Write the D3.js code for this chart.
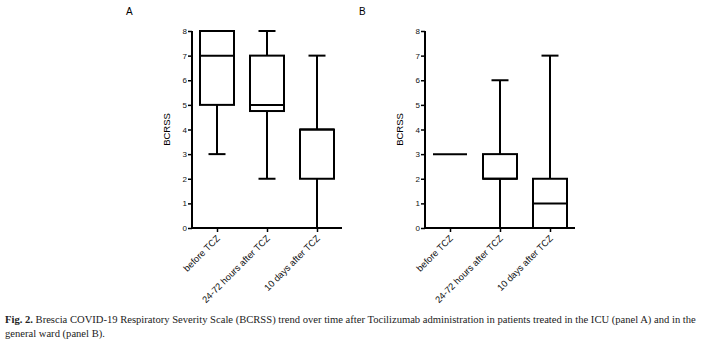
<!DOCTYPE html>
<html>
<head>
<meta charset="utf-8">
<script src="https://cdn.jsdelivr.net/npm/d3@7"></script>
<style>
  body { margin: 0; background: #fff; }
  svg { display: block; }
</style>
</head>
<body>
<svg id="chart" width="701" height="345"></svg>
<script>
// categories shared by both panels
var categories = ["before TCZ", "24-72 hours after TCZ", "10 days after TCZ"];
var yTicks = [0, 1, 2, 3, 4, 5, 6, 7, 8];

// [min, q1, median, q3, max] per category
var panelA = [
    [3, 5, 7, 8, 8],
    [2, 4.75, 5, 7, 8],
    [0, 2, 4, 4, 7]
];
var panelB = [
    [3, 3, 3, 3, 3],
    [0, 2, 2, 3, 6],
    [0, 0, 1, 2, 7]
];

var svg = d3.select("#chart");

function drawPanel(data, letter, x0) {
    var g = svg.append("g");
    var xScale = d3.scalePoint().domain(categories).range([x0, x0 + 150]).padding(0.5);
    var yScale = d3.scaleLinear().domain([0, 8]).range([228, 31]);
    var boxW = 34, capW = 17;

    // y axis
    var yAxis = g.append("g").attr("transform", "translate(" + x0 + ",0)")
        .call(d3.axisLeft(yScale).tickValues(yTicks).tickSize(4).tickPadding(1).tickFormat(d3.format("d")));
    yAxis.select(".domain").attr("stroke-width", 2).attr("d", "M0," + yScale(8) + "V" + yScale(0));
    yAxis.selectAll(".tick line").attr("stroke-width", 1.5);
    yAxis.selectAll("text").attr("font-family", "Liberation Sans, Arial, sans-serif").attr("font-size", 8).attr("fill", "#111");

    // x axis
    var xAxis = g.append("g").attr("transform", "translate(0," + yScale(0) + ")")
        .call(d3.axisBottom(xScale).tickSize(4).tickSizeOuter(0));
    xAxis.select(".domain").attr("stroke-width", 2).attr("d", "M" + (x0 - 1) + ",0H" + (x0 + 150));
    xAxis.selectAll(".tick line").attr("stroke-width", 1.5);
    xAxis.selectAll("text")
        .attr("font-family", "Liberation Sans, Arial, sans-serif").attr("font-size", 9.3).attr("fill", "#111")
        .attr("text-anchor", "end")
        .attr("dy", null).attr("y", 0)
        .attr("transform", "translate(3,11) rotate(-45)");

    // boxes
    var boxes = g.selectAll(".box").data(data).enter().append("g")
        .attr("transform", function(d, i) { return "translate(" + xScale(categories[i]) + ",0)"; });

    boxes.append("line").attr("x1", 0).attr("x2", 0)
        .attr("y1", function(d) { return yScale(d[4]); })
        .attr("y2", function(d) { return yScale(d[3]); })
        .attr("stroke", "#000").attr("stroke-width", 2);
    boxes.append("line").attr("x1", 0).attr("x2", 0)
        .attr("y1", function(d) { return yScale(d[1]); })
        .attr("y2", function(d) { return yScale(d[0]); })
        .attr("stroke", "#000").attr("stroke-width", 2);
    boxes.selectAll(".cap").data(function(d) { return [d[0], d[4]].filter(function(v) { return v !== d[1] && v !== d[3]; }); })
        .enter().append("line")
        .attr("x1", -capW / 2).attr("x2", capW / 2)
        .attr("y1", function(v) { return yScale(v); })
        .attr("y2", function(v) { return yScale(v); })
        .attr("stroke", "#000").attr("stroke-width", 2);
    boxes.append("rect")
        .attr("x", -boxW / 2).attr("width", boxW)
        .attr("y", function(d) { return yScale(d[3]); })
        .attr("height", function(d) { return yScale(d[1]) - yScale(d[3]); })
        .attr("fill", "#fff").attr("stroke", "#000").attr("stroke-width", 2);
    boxes.append("line")
        .attr("x1", -boxW / 2).attr("x2", boxW / 2)
        .attr("y1", function(d) { return yScale(d[2]); })
        .attr("y2", function(d) { return yScale(d[2]); })
        .attr("stroke", "#000").attr("stroke-width", 2);

    // axis title and panel letter
    g.append("text")
        .attr("transform", "translate(" + (x0 - 22) + "," + yScale(4) + ") rotate(-90)")
        .attr("text-anchor", "middle")
        .attr("font-family", "Liberation Sans, Arial, sans-serif").attr("font-size", 9.5)
        .text("BCRSS");
    g.append("text")
        .attr("x", x0 - 66).attr("y", 15)
        .attr("font-family", "Liberation Sans, Arial, sans-serif").attr("font-size", 10)
        .text(letter);
}

drawPanel(panelA, "A", 192);
drawPanel(panelB, "B", 425);

// caption: condensed serif, squeezed horizontally to fit the page width
var cap = svg.append("g").attr("font-family", "Liberation Serif, Times New Roman, serif").attr("font-size", 10.5).attr("fill", "#222");
var line1 = cap.append("text");
line1.append("tspan").attr("font-weight", "bold").text("Fig. 2.");
line1.append("tspan").text(" Brescia COVID-19 Respiratory Severity Scale (BCRSS) trend over time after Tocilizumab administration in patients treated in the ICU (panel A) and in the");
var line2 = cap.append("text").text("general ward (panel B).");
var sx = 692 / line1.node().getComputedTextLength();
line1.attr("transform", "translate(5,323) scale(" + sx + ",1)");
line2.attr("transform", "translate(5,337) scale(" + sx + ",1)");
</script>
</body>
</html>
